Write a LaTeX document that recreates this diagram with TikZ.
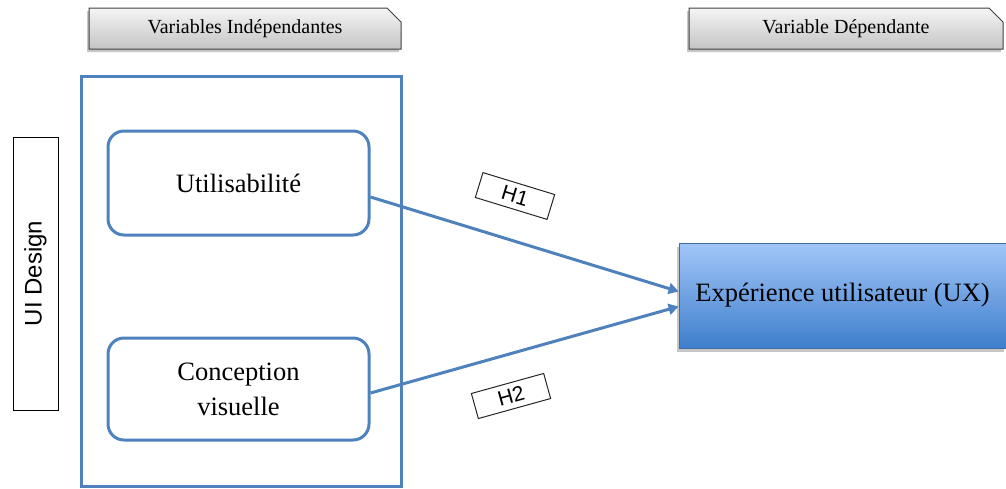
\documentclass[tikz,border=0pt]{standalone}
\usepackage{fontspec}
\setmainfont{Liberation Serif}
\newfontfamily\arialfont{Liberation Sans}
\usetikzlibrary{shapes.misc,shadows,arrows.meta,calc}
\definecolor{accent}{RGB}{79,129,189}
\definecolor{uxtop}{RGB}{162,198,248}
\definecolor{uxbot}{RGB}{62,126,204}
\begin{document}
\begin{tikzpicture}[x=1pt,y=-1pt,
  header/.style={chamfered rectangle, chamfered rectangle corners=north east,
    chamfered rectangle xsep=7pt, chamfered rectangle ysep=7pt,
    draw=black!75, line width=1pt, top color=black!4, bottom color=black!23,
    drop shadow={opacity=0.45, shadow xshift=-2pt, shadow yshift=-3pt},
    minimum height=41pt, inner sep=0pt, font=\fontsize{20}{24}\selectfont},
  varbox/.style={draw=accent, line width=3pt, rounded corners=16pt,
    minimum width=261pt, align=center, inner sep=0pt,
    font=\fontsize{26.5}{35}\selectfont},
  hyp/.style={draw=black!85, line width=1pt, minimum width=75pt,
    minimum height=26pt, inner sep=0pt, font=\arialfont\fontsize{21}{23}\selectfont},
  link/.style={draw=accent, line width=3pt, -{Triangle[length=10pt,width=11pt]}}
]
\useasboundingbox (0,0) rectangle (1006,488);

% column headings
\node[header, minimum width=312pt] (hind) at (245,28.5) {Variables Indépendantes};
\node[header, minimum width=314pt] (hdep) at (846,28.5) {Variable Dépendante};

% side label
\node[draw=black, line width=0.8pt, minimum width=273pt, minimum height=45pt,
      rotate=90, inner sep=0pt, font=\arialfont\fontsize{24}{26}\selectfont]
      (uid) at (35.5,273.5) {UI Design};

% group of independent variables
\node[draw=accent, line width=3pt, minimum width=320pt, minimum height=410pt,
      inner sep=0pt] (grp) at (241,281) {};

\node[varbox, minimum height=104pt] (util) at (238.5,183) {Utilisabilité};
\node[varbox, minimum height=102pt] (conc) at (238.5,389) {Conception\\visuelle};

% dependent variable
\node[draw=accent!85!black, line width=0.8pt, top color=uxtop, bottom color=uxbot,
      drop shadow={opacity=0.45, shadow xshift=-2pt, shadow yshift=-4pt},
      minimum width=327pt, minimum height=105pt, inner sep=0pt,
      font=\fontsize{26.5}{30}\selectfont] (ux) at (842.5,295.5)
      {Expérience utilisateur (UX)};

% hypotheses
\draw[link] ([yshift=-14pt]util.east) -- ([yshift=4pt]ux.west);
\draw[link] ([yshift=-4pt]conc.east) -- ([yshift=-11pt]ux.west);

\node[hyp, rotate=-17] (h1) at (515,196) {H1};
\node[hyp, rotate=15.5] (h2) at (511,396) {H2};
\end{tikzpicture}
\end{document}
